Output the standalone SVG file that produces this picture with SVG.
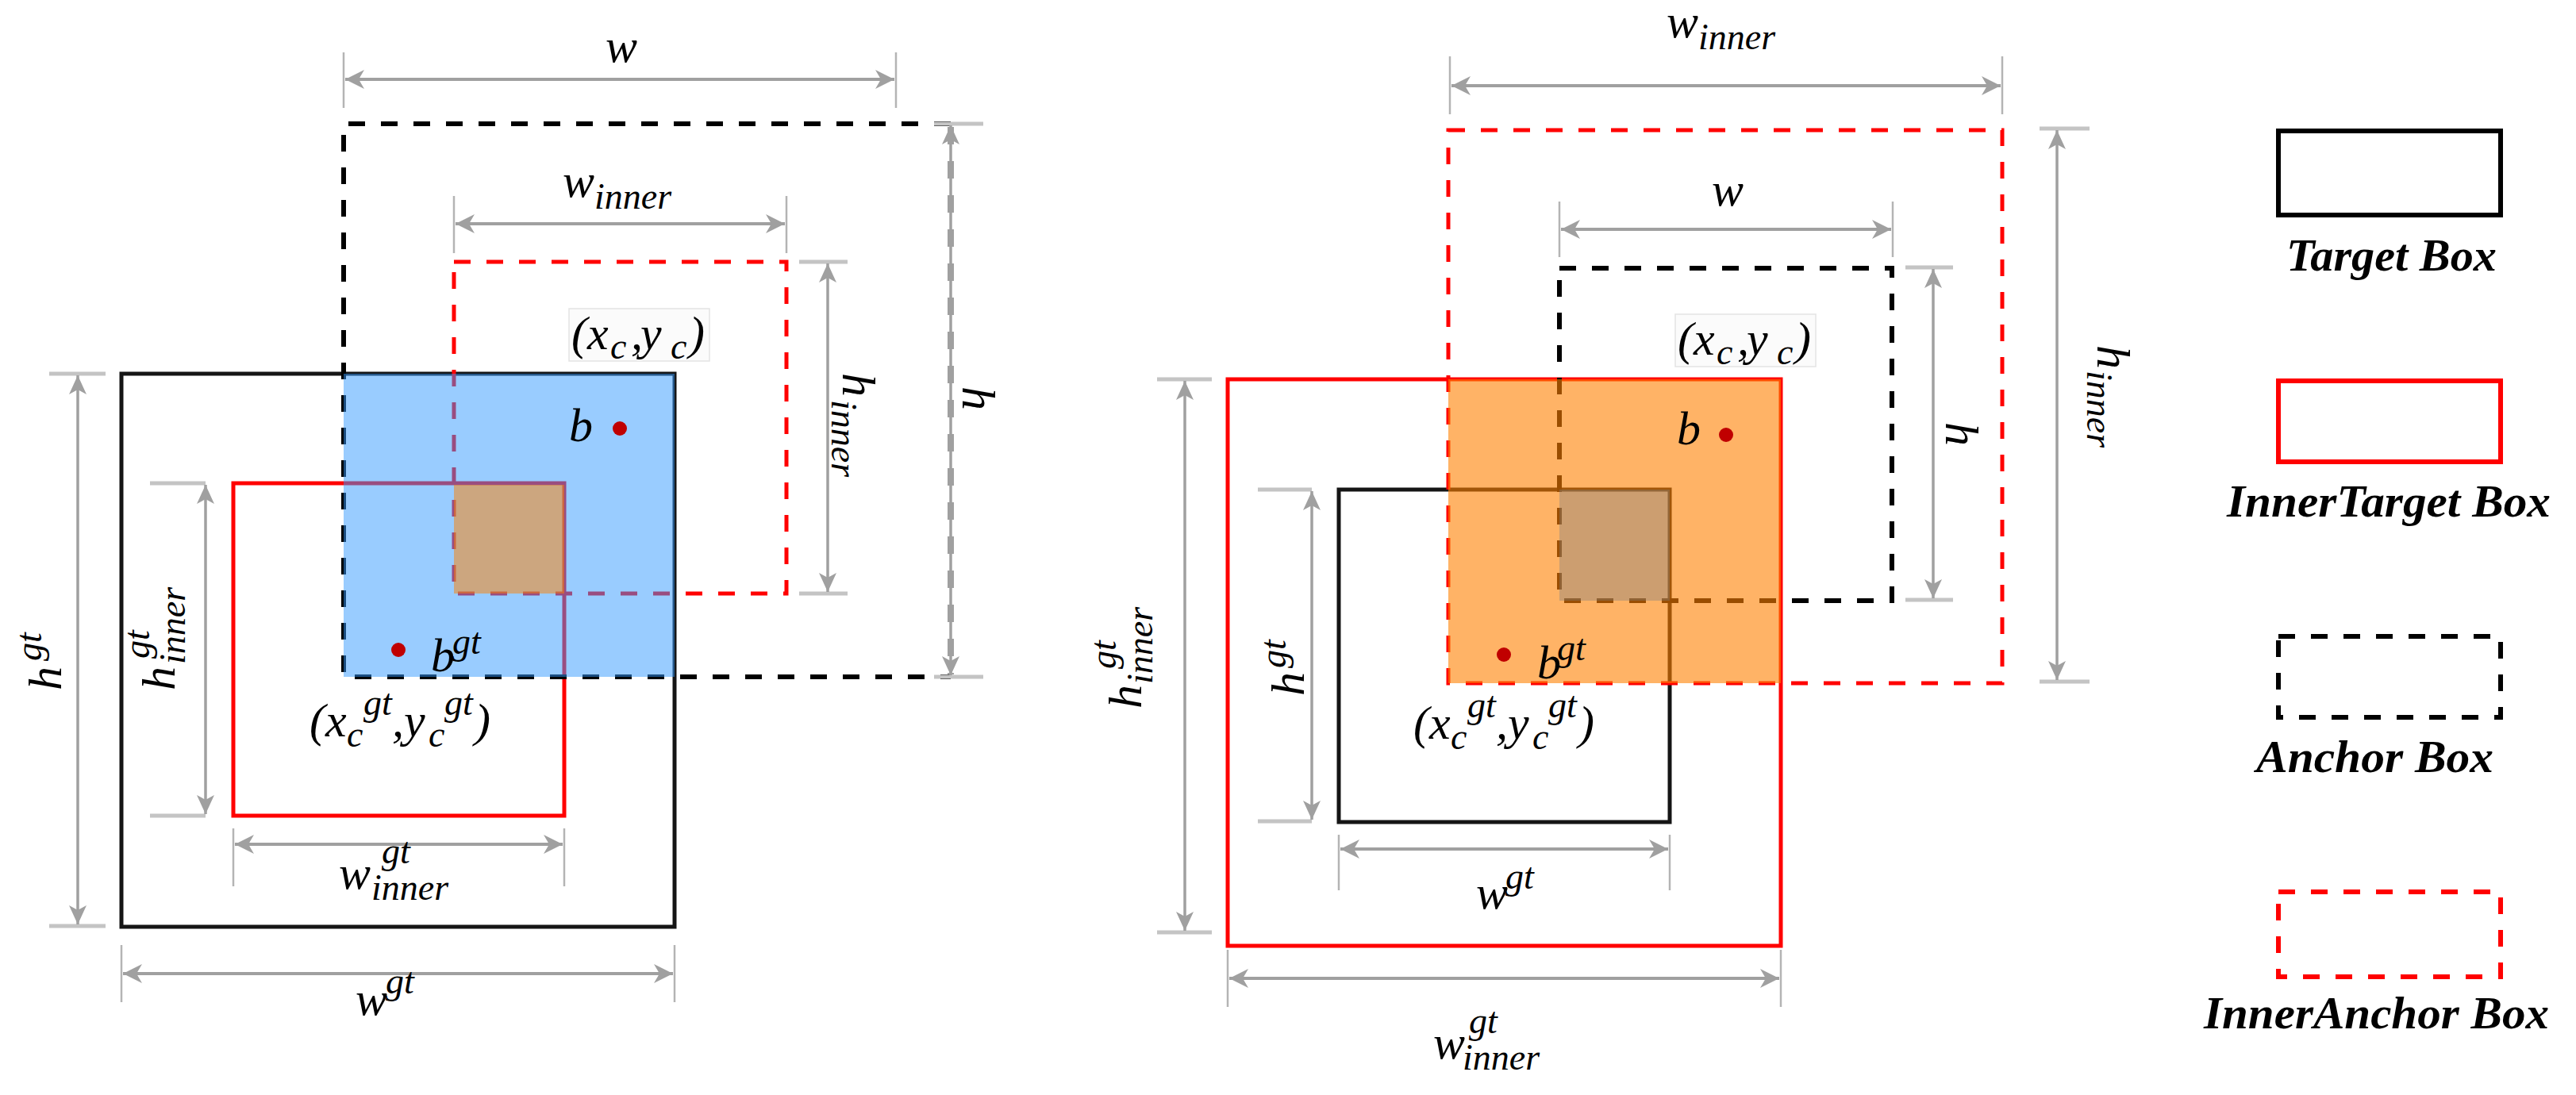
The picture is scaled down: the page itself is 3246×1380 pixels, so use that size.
<svg xmlns="http://www.w3.org/2000/svg" width="3246" height="1380" viewBox="0 0 3246 1380">
<defs>
<style>
.lbl{font-family:"Liberation Serif","Times New Roman",serif;font-style:italic;font-size:60px;fill:#000}
.sc{font-size:46px}
.leg{font-family:"Liberation Serif","Times New Roman",serif;font-style:italic;font-weight:bold;font-size:58px;fill:#000}
.dim{stroke:#a0a0a0;stroke-width:4;fill:none}
.dimv{stroke:#a0a0a0;stroke-width:3.5;fill:none}
.ext{stroke:#b4b4b4;stroke-width:2.5;fill:none}
.tick{stroke:#c4c4c4;stroke-width:5;fill:none}
.tgt{fill:none;stroke:#151515;stroke-width:5}
.itgt{fill:none;stroke:#ff0000;stroke-width:5}
.anc{fill:none;stroke:#000;stroke-width:6;stroke-dasharray:21 20}
.ianc{fill:none;stroke:#ff0000;stroke-width:5;stroke-dasharray:21 20}
.dot{fill:#c00000}
.cbox{fill:#fbfbfb;stroke:#e4e4e4;stroke-width:1.5}
</style>
<marker id="ah" markerUnits="userSpaceOnUse" viewBox="-26 -14 28 28" refX="0" refY="0" markerWidth="28" markerHeight="28" orient="auto-start-reverse">
<path d="M0,0 L-24,-12 L-17,0 L-24,12 Z" fill="#a0a0a0"/>
</marker>
<marker id="av" markerUnits="userSpaceOnUse" viewBox="-26 -14 28 28" refX="0" refY="0" markerWidth="28" markerHeight="28" orient="auto-start-reverse">
<path d="M0,0 L-24,-11 L-18,0 L-24,11 Z" fill="#a0a0a0"/>
</marker>
</defs>
<rect width="3246" height="1380" fill="#fff"/>

<!-- LEFT DIAGRAM BOXES -->
<g id="left-target-box"><rect class="tgt" x="153" y="471" width="697" height="697"/></g>
<g id="left-inner-target-box"><rect class="itgt" x="294" y="609" width="417" height="419"/></g>
<g id="left-anchor-box"><path class="anc" d="M1198,156 H433 V853 H1198"/></g>
<g id="left-inner-anchor-box"><rect class="ianc" x="572" y="330" width="419" height="418"/></g>

<!-- RIGHT DIAGRAM BOXES -->
<g id="right-inner-target-box"><rect class="itgt" x="1547" y="478" width="697" height="714"/></g>
<g id="right-target-box"><rect class="tgt" x="1687" y="617" width="417" height="419"/></g>
<g id="right-inner-anchor-box"><rect class="ianc" x="1825" y="164" width="698" height="697"/></g>
<g id="right-anchor-box"><rect class="anc" x="1965" y="338" width="419" height="419"/></g>

<!-- OVERLAP FILLS -->
<g id="left-overlap">
<rect x="433" y="471" width="417" height="382" fill="rgb(51,153,255)" fill-opacity="0.5"/>
<rect x="572" y="611" width="139" height="137" fill="rgb(255,128,0)" fill-opacity="0.5"/>
</g>
<g id="right-overlap">
<rect x="1825" y="478" width="419" height="383" fill="rgb(255,128,0)" fill-opacity="0.6"/>
<rect x="1965" y="617" width="139" height="140" fill="#808080" fill-opacity="0.4"/>
</g>

<!-- DIMENSIONS / CONNECTORS -->
<g id="connectors">
<!-- left w -->
<line class="ext" x1="433" y1="66" x2="433" y2="136"/>
<line class="ext" x1="1129" y1="66" x2="1129" y2="136"/>
<line class="dim" x1="435" y1="100" x2="1127" y2="100" marker-start="url(#ah)" marker-end="url(#ah)"/>
<!-- left w_inner -->
<line class="ext" x1="572" y1="247" x2="572" y2="319"/>
<line class="ext" x1="991" y1="247" x2="991" y2="319"/>
<line class="dim" x1="574" y1="282" x2="989" y2="282" marker-start="url(#ah)" marker-end="url(#ah)"/>
<!-- left h (anchor) -->
<line class="tick" x1="1177" y1="156" x2="1239" y2="156"/>
<line class="tick" x1="1177" y1="853" x2="1239" y2="853"/>
<line x1="1198" y1="160" x2="1198" y2="850" stroke="#a0a0a0" stroke-width="8" stroke-dasharray="22 21"/>
<line class="dimv" x1="1198" y1="158" x2="1198" y2="851" marker-start="url(#av)" marker-end="url(#av)"/>
<!-- left h_inner -->
<line class="tick" x1="1007" y1="330" x2="1068" y2="330"/>
<line class="tick" x1="1007" y1="748" x2="1068" y2="748"/>
<line class="dimv" x1="1043" y1="332" x2="1043" y2="746" marker-start="url(#av)" marker-end="url(#av)"/>
<!-- left h^gt -->
<line class="tick" x1="62" y1="471" x2="133" y2="471"/>
<line class="tick" x1="62" y1="1167" x2="133" y2="1167"/>
<line class="dimv" x1="98" y1="473" x2="98" y2="1165" marker-start="url(#av)" marker-end="url(#av)"/>
<!-- left h_inner^gt -->
<line class="tick" x1="189" y1="609" x2="259" y2="609"/>
<line class="tick" x1="189" y1="1028" x2="259" y2="1028"/>
<line class="dimv" x1="259" y1="611" x2="259" y2="1026" marker-start="url(#av)" marker-end="url(#av)"/>
<!-- left w_inner^gt -->
<line class="ext" x1="294" y1="1044" x2="294" y2="1117"/>
<line class="ext" x1="711" y1="1044" x2="711" y2="1117"/>
<line class="dim" x1="296" y1="1064" x2="709" y2="1064" marker-start="url(#ah)" marker-end="url(#ah)"/>
<!-- left w^gt -->
<line class="ext" x1="153" y1="1191" x2="153" y2="1263"/>
<line class="ext" x1="850" y1="1191" x2="850" y2="1263"/>
<line class="dim" x1="155" y1="1227" x2="848" y2="1227" marker-start="url(#ah)" marker-end="url(#ah)"/>

<!-- right w_inner -->
<line class="ext" x1="1827" y1="71" x2="1827" y2="144"/>
<line class="ext" x1="2523" y1="71" x2="2523" y2="144"/>
<line class="dim" x1="1829" y1="108" x2="2521" y2="108" marker-start="url(#ah)" marker-end="url(#ah)"/>
<!-- right w -->
<line class="ext" x1="1965" y1="254" x2="1965" y2="324"/>
<line class="ext" x1="2385" y1="254" x2="2385" y2="324"/>
<line class="dim" x1="1967" y1="289" x2="2383" y2="289" marker-start="url(#ah)" marker-end="url(#ah)"/>
<!-- right h -->
<line class="tick" x1="2401" y1="337" x2="2461" y2="337"/>
<line class="tick" x1="2401" y1="756" x2="2461" y2="756"/>
<line class="dimv" x1="2436" y1="339" x2="2436" y2="754" marker-start="url(#av)" marker-end="url(#av)"/>
<!-- right h_inner -->
<line class="tick" x1="2570" y1="162" x2="2633" y2="162"/>
<line class="tick" x1="2570" y1="859" x2="2633" y2="859"/>
<line class="dimv" x1="2592" y1="164" x2="2592" y2="857" marker-start="url(#av)" marker-end="url(#av)"/>
<!-- right h_inner^gt -->
<line class="tick" x1="1458" y1="478" x2="1527" y2="478"/>
<line class="tick" x1="1458" y1="1175" x2="1527" y2="1175"/>
<line class="dimv" x1="1493" y1="480" x2="1493" y2="1173" marker-start="url(#av)" marker-end="url(#av)"/>
<!-- right h^gt -->
<line class="tick" x1="1585" y1="617" x2="1653" y2="617"/>
<line class="tick" x1="1585" y1="1035" x2="1653" y2="1035"/>
<line class="dimv" x1="1653" y1="619" x2="1653" y2="1033" marker-start="url(#av)" marker-end="url(#av)"/>
<!-- right w^gt -->
<line class="ext" x1="1687" y1="1052" x2="1687" y2="1122"/>
<line class="ext" x1="2104" y1="1052" x2="2104" y2="1122"/>
<line class="dim" x1="1689" y1="1070" x2="2102" y2="1070" marker-start="url(#ah)" marker-end="url(#ah)"/>
<!-- right w_inner^gt -->
<line class="ext" x1="1547" y1="1197" x2="1547" y2="1269"/>
<line class="ext" x1="2244" y1="1197" x2="2244" y2="1269"/>
<line class="dim" x1="1549" y1="1233" x2="2242" y2="1233" marker-start="url(#ah)" marker-end="url(#ah)"/>
</g>

<!-- POINTS -->
<g id="left-points">
<circle class="dot" cx="781" cy="540" r="9"/>
<circle class="dot" cx="502" cy="819" r="9"/>
</g>
<g id="right-points">
<circle class="dot" cx="2175" cy="548" r="9"/>
<circle class="dot" cx="1895" cy="825" r="9"/>
</g>

<!-- LEFT LABELS -->
<g id="left-labels">
<text class="lbl" x="783" y="78" text-anchor="middle">w</text>
<text class="lbl" x="709" y="248">w<tspan class="sc" dy="15">inner</tspan></text>
<text class="lbl" transform="translate(1213,487) rotate(90)">h</text>
<text class="lbl" transform="translate(1062,470) rotate(90)">h<tspan class="sc" x="34" y="14">inner</tspan></text>
<rect class="cbox" x="717" y="389" width="177" height="66"/>
<text class="lbl" x="720" y="440">(x<tspan class="sc" x="769" y="452">c</tspan><tspan x="795" y="440">,</tspan><tspan x="807" y="440">y</tspan><tspan class="sc" x="845" y="452">c</tspan><tspan x="868" y="440">)</tspan></text>
<text class="lbl" x="717" y="556">b</text>
<text class="lbl" x="543" y="846">b<tspan class="sc" x="570" y="824">gt</tspan></text>
<text class="lbl" x="390" y="928">(x<tspan class="sc" x="437" y="941">c</tspan><tspan class="sc" x="458" y="901">gt</tspan><tspan x="494" y="928">,y</tspan><tspan class="sc" x="540" y="941">c</tspan><tspan class="sc" x="560" y="901">gt</tspan><tspan x="598" y="928">)</tspan></text>
<text class="lbl" transform="translate(77,870) rotate(-90)">h<tspan class="sc" x="37" y="-25">gt</tspan></text>
<text class="lbl" transform="translate(220,870) rotate(-90)">h<tspan class="sc" x="40" y="-32">gt</tspan><tspan class="sc" x="33" y="13">inner</tspan></text>
<text class="lbl" x="427" y="1120">w<tspan class="sc" x="481" y="1088">gt</tspan><tspan class="sc" x="468" y="1134">inner</tspan></text>
<text class="lbl" x="448" y="1279">w<tspan class="sc" x="486" y="1252">gt</tspan></text>
</g>

<!-- RIGHT LABELS -->
<g id="right-labels">
<text class="lbl" x="2100" y="47">w<tspan class="sc" dy="15">inner</tspan></text>
<text class="lbl" x="2177" y="259" text-anchor="middle">w</text>
<text class="lbl" transform="translate(2452,532) rotate(90)">h</text>
<text class="lbl" transform="translate(2643,435) rotate(90)">h<tspan class="sc" x="32" y="13">inner</tspan></text>
<rect class="cbox" x="2111" y="396" width="177" height="66"/>
<text class="lbl" x="2114" y="447">(x<tspan class="sc" x="2163" y="459">c</tspan><tspan x="2189" y="447">,</tspan><tspan x="2201" y="447">y</tspan><tspan class="sc" x="2239" y="459">c</tspan><tspan x="2262" y="447">)</tspan></text>
<text class="lbl" x="2113" y="560">b</text>
<text class="lbl" x="1937" y="855">b<tspan class="sc" x="1962" y="832">gt</tspan></text>
<text class="lbl" x="1781" y="931">(x<tspan class="sc" x="1828" y="944">c</tspan><tspan class="sc" x="1849" y="904">gt</tspan><tspan x="1885" y="931">,y</tspan><tspan class="sc" x="1931" y="944">c</tspan><tspan class="sc" x="1951" y="904">gt</tspan><tspan x="1989" y="931">)</tspan></text>
<text class="lbl" transform="translate(1438,893) rotate(-90)">h<tspan class="sc" x="50" y="-32">gt</tspan><tspan class="sc" x="31" y="14">inner</tspan></text>
<text class="lbl" transform="translate(1643,877) rotate(-90)">h<tspan class="sc" x="35" y="-23">gt</tspan></text>
<text class="lbl" x="1860" y="1145">w<tspan class="sc" x="1897" y="1120">gt</tspan></text>
<text class="lbl" x="1806" y="1334">w<tspan class="sc" x="1851" y="1302">gt</tspan><tspan class="sc" x="1843" y="1348">inner</tspan></text>
</g>

<!-- LEGEND -->
<g id="legend-target">
<rect x="2871" y="165" width="280" height="106" fill="none" stroke="#000" stroke-width="6"/>
<text class="leg" x="2881" y="341" textLength="265" lengthAdjust="spacingAndGlyphs">Target Box</text>
</g>
<g id="legend-inner-target">
<rect x="2871" y="480" width="280" height="102" fill="none" stroke="#ff0000" stroke-width="6"/>
<text class="leg" x="2806" y="651" textLength="408" lengthAdjust="spacingAndGlyphs">InnerTarget Box</text>
</g>
<g id="legend-anchor">
<rect x="2871" y="802" width="280" height="102" fill="none" stroke="#000" stroke-width="6" stroke-dasharray="21 20"/>
<text class="leg" x="2843" y="973" textLength="299" lengthAdjust="spacingAndGlyphs">Anchor Box</text>
</g>
<g id="legend-inner-anchor">
<rect x="2871" y="1124" width="280" height="107" fill="none" stroke="#ff0000" stroke-width="6" stroke-dasharray="21 20"/>
<text class="leg" x="2777" y="1296" textLength="435" lengthAdjust="spacingAndGlyphs">InnerAnchor Box</text>
</g>
</svg>
